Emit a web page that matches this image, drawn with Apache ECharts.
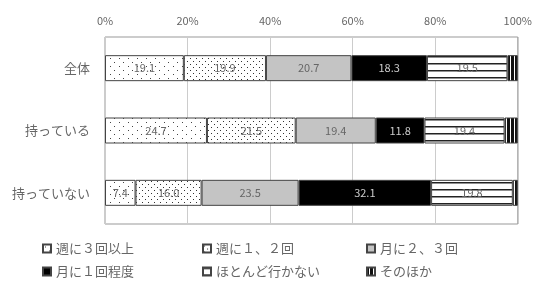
<!DOCTYPE html>
<html>
<head>
<meta charset="utf-8">
<script src="https://cdn.jsdelivr.net/npm/echarts@6/dist/echarts.min.js"></script>
<style>
  html, body { margin: 0; padding: 0; background: #fff; }
  #chart { width: 535px; height: 282px; }
</style>
</head>
<body>
<div id="chart"></div>
<script>
// カテゴリ
const categories = ['全体', '持っている', '持っていない']
const seriesNames = ['週に３回以上', '週に１、２回', '月に２、３回', '月に１回程度', 'ほとんど行かない', 'そのほか']

// 各回答の割合（％）
const weekly3 = [19.1, 24.7, 7.4]
const weekly12 = [19.9, 21.5, 16.0]
const monthly23 = [20.7, 19.4, 23.5]
const monthly1 = [18.3, 11.8, 32.1]
const rarely = [19.5, 19.4, 19.8]
const other = [2.5, 3.2, 1.2]

const xTicks = ['0%', '20%', '40%', '60%', '80%', '100%']

// 模様を canvas で作る
const makePattern = (w, h, draw) => {
  const c = document.createElement('canvas')
  c.width = w
  c.height = h
  const ctx = c.getContext('2d')
  draw(ctx)
  return { image: c, repeat: 'repeat' }
}

const sparseDots = makePattern(9, 8, (ctx) => {
  ctx.fillStyle = '#fff'
  ctx.fillRect(0, 0, 9, 8)
  ctx.fillStyle = '#444'
  ctx.fillRect(2, 2, 1, 1)
  ctx.fillRect(6, 6, 1, 1)
})

const denseDots = makePattern(6, 6, (ctx) => {
  ctx.fillStyle = '#fff'
  ctx.fillRect(0, 0, 6, 6)
  ctx.fillStyle = '#333'
  ctx.fillRect(1, 1, 1, 1)
  ctx.fillRect(4, 4, 1, 1)
})

const hLines = makePattern(7, 7, (ctx) => {
  ctx.fillStyle = '#fff'
  ctx.fillRect(0, 0, 7, 7)
  ctx.fillStyle = '#222'
  ctx.fillRect(0, 0, 7, 1.5)
})

const vLines = makePattern(4, 4, (ctx) => {
  ctx.fillStyle = '#111'
  ctx.fillRect(0, 0, 4, 4)
  ctx.fillStyle = '#fff'
  ctx.fillRect(2, 0, 1, 4)
})

const seriesData = [weekly3, weekly12, monthly23, monthly1, rarely, other]
const fills = [sparseDots, denseDots, '#c4c4c4', '#000', hLines, vLines]
const labelColors = ['#666', '#666', '#666', '#ccc', '#666', '#666']

const chart = echarts.init(document.getElementById('chart'))

const series = seriesData.map((data, i) => ({
  name: seriesNames[i],
  type: 'bar',
  stack: 'total',
  barWidth: 26,
  data: data,
  itemStyle: {
    color: fills[i],
    borderColor: '#444',
    borderWidth: 1,
  },
  label: {
    show: i < 5,
    position: 'inside',
    fontSize: 11,
    fontFamily: 'Noto Sans CJK JP',
    color: labelColors[i],
    formatter: (p) => p.value.toFixed(1),
  },
}))

// 凡例は 3 列 × 2 行で並べる
const legendPos = [
  [42, 242], [202, 242], [366, 242],
  [42, 265], [202, 265], [366, 265],
]

const legends = seriesNames.map((name, i) => ({
  data: [name],
  left: legendPos[i][0],
  top: legendPos[i][1],
  icon: 'rect',
  itemWidth: 8,
  itemHeight: 8,
  itemGap: 4,
  padding: 0,
  selectedMode: false,
  textStyle: {
    fontSize: 13,
    color: '#666',
    fontFamily: 'Noto Sans CJK JP',
  },
}))

chart.setOption({
  animation: false,
  textStyle: { fontFamily: 'Noto Sans CJK JP' },
  legend: legends,
  grid: {
    left: 105,
    right: 16,
    top: 37,
    bottom: 58,
    show: true,
    borderColor: '#999',
    borderWidth: 1,
  },
  xAxis: {
    type: 'value',
    position: 'top',
    min: 0,
    max: 100,
    interval: 20,
    axisLine: { show: false },
    axisTick: { show: false },
    axisLabel: {
      fontSize: 11,
      color: '#666',
      margin: 11,
      formatter: (v) => xTicks[v / 20],
    },
    splitLine: { lineStyle: { color: '#ccc' } },
  },
  yAxis: {
    type: 'category',
    inverse: true,
    data: categories,
    axisLine: { show: false },
    axisTick: { show: false },
    axisLabel: {
      fontSize: 13,
      color: '#666',
      margin: 15,
    },
  },
  series: series,
})
</script>
</body>
</html>
